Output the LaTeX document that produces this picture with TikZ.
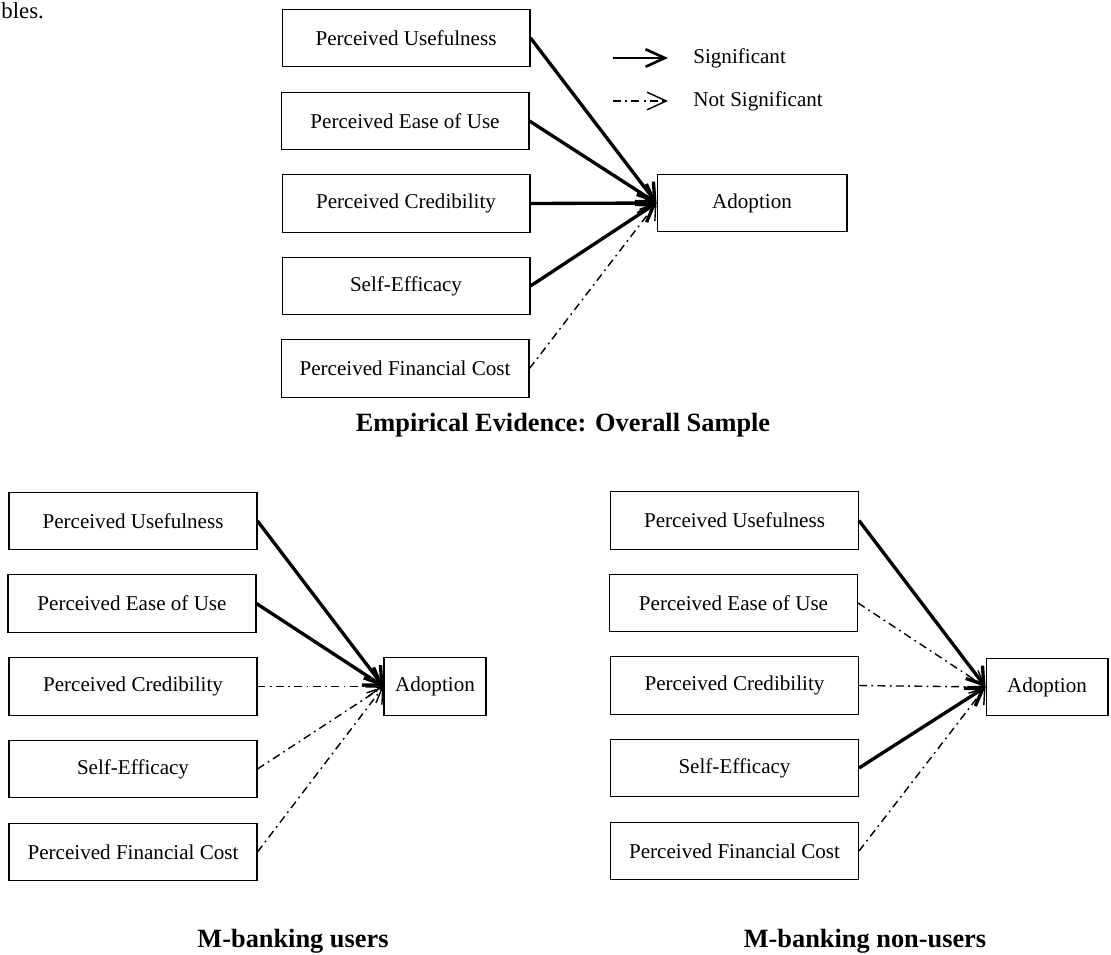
\documentclass[tikz,border=0pt]{standalone}
\usepackage{fontspec}
\setmainfont{Liberation Serif}
\usetikzlibrary{arrows.meta}

\begin{document}
\begin{tikzpicture}[x=0.02cm,y=-0.02cm,
  box/.style={draw,line width=0.6pt,minimum width=4.96cm,minimum height=1.15cm,
    font=\fontsize{12}{14}\selectfont},
  adbox/.style={box,minimum width=#1},
  sig/.style={line width=1.9pt,-{Straight Barb[length=9pt,width=12pt]}},
  nsig/.style={line width=0.8pt,dash pattern=on 4.5pt off 2.5pt on 1pt off 2.5pt,
    -{Straight Barb[length=8pt,width=11pt]}},
  paneltitle/.style={anchor=base,font=\fontsize{15}{18}\selectfont\bfseries}]
  \useasboundingbox (0,0) rectangle (1111,954);
  \node[anchor=base west,inner sep=0pt,font=\fontsize{13}{15}\selectfont] (frag) at (1,18) {bles.};
  % --- muestra total ---
  \node[box] (PU) at (406,38) {Perceived Usefulness};
  \node[box] (EU) at (405,121) {Perceived Ease of Use};
  \node[box] (CR) at (406,203.5) {Perceived Credibility};
  \node[box] (SE) at (406,286) {Self-Efficacy};
  \node[box] (FC) at (405,368.5) {Perceived Financial Cost};
  \node[adbox=3.8cm] (AD) at (752,203) {Adoption};
  \draw[sig] (PU.east) -- (AD.west);
  \draw[sig] (EU.east) -- (AD.west);
  \draw[sig] (CR.east) -- (AD.west);
  \draw[sig] (SE.east) -- (AD.west);
  \draw[nsig] (FC.east) -- (AD.west);
  \node[paneltitle] (T0) at (563,431) {Empirical Evidence: Overall Sample};
  % leyenda
  \coordinate (Sa) at (613,58);
  \coordinate (Sb) at (668,58);
  \coordinate (Na) at (613,101);
  \coordinate (Nb) at (668,101);
  \draw[line width=1.5pt,-{Straight Barb[length=11pt,width=10pt]}] (Sa) -- (Sb);
  \draw[line width=0.8pt,dash pattern=on 4.5pt off 2.5pt on 1pt off 2.5pt,
    -{Straight Barb[length=11pt,width=10pt]}] (Na) -- (Nb);
  \node[anchor=west,inner sep=0pt,font=\fontsize{12}{14}\selectfont] (Lsig) at (693,58) {Significant};
  \node[anchor=west,inner sep=0pt,font=\fontsize{12}{14}\selectfont] (Lnsig) at (693,101) {Not Significant};
  % --- usuarios ---
  \node[box] (PU1) at (133,521) {Perceived Usefulness};
  \node[box] (EU1) at (132,603.5) {Perceived Ease of Use};
  \node[box] (CR1) at (133,686.5) {Perceived Credibility};
  \node[box] (SE1) at (133,769) {Self-Efficacy};
  \node[box] (FC1) at (133,852) {Perceived Financial Cost};
  \node[adbox=2.04cm] (AD1) at (435,686.5) {Adoption};
  \draw[sig] (PU1.east) -- (AD1.west);
  \draw[sig] (EU1.east) -- (AD1.west);
  \draw[nsig] (CR1.east) -- (AD1.west);
  \draw[nsig] (SE1.east) -- (AD1.west);
  \draw[nsig] (FC1.east) -- (AD1.west);
  \node[paneltitle] (T1) at (293,947) {M-banking users};
  % --- no usuarios ---
  \node[box] (PU2) at (734.5,520.5) {Perceived Usefulness};
  \node[box] (EU2) at (733.5,603) {Perceived Ease of Use};
  \node[box] (CR2) at (734.5,685.5) {Perceived Credibility};
  \node[box] (SE2) at (734.5,768) {Self-Efficacy};
  \node[box] (FC2) at (734.5,851) {Perceived Financial Cost};
  \node[adbox=2.44cm] (AD2) at (1047,687) {Adoption};
  \draw[sig] (PU2.east) -- (AD2.west);
  \draw[nsig] (EU2.east) -- (AD2.west);
  \draw[nsig] (CR2.east) -- (AD2.west);
  \draw[sig] (SE2.east) -- (AD2.west);
  \draw[nsig] (FC2.east) -- (AD2.west);
  \node[paneltitle] (T2) at (865,947) {M-banking non-users};
\end{tikzpicture}
\end{document}
